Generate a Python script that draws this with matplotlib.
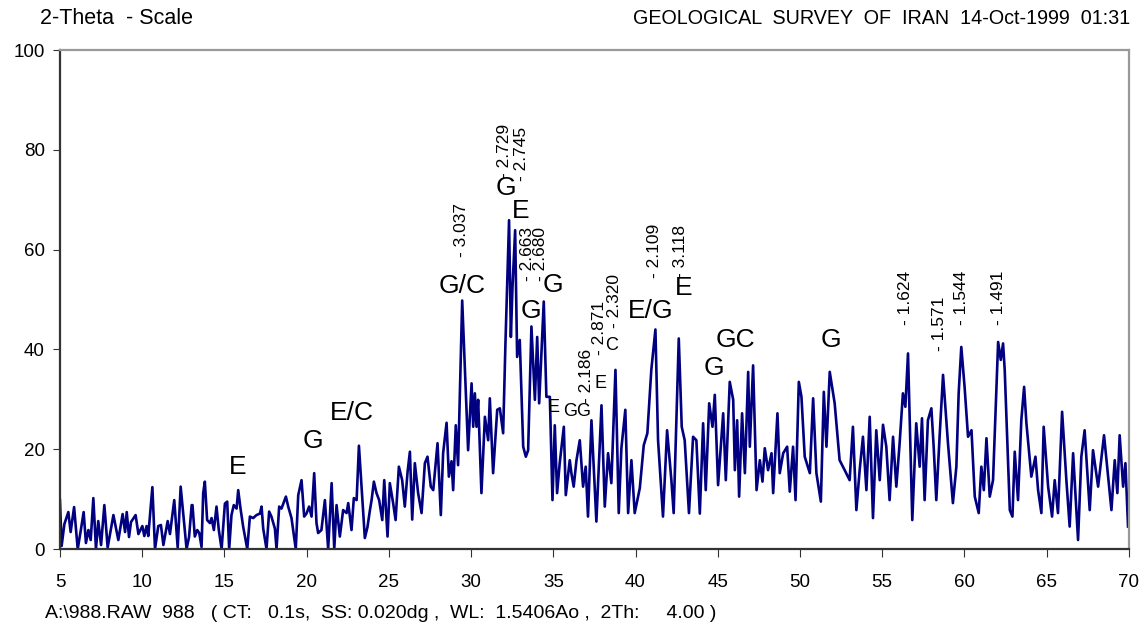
#!/usr/bin/python3
# XRD pattern, 2-theta scale, redrawn with matplotlib

import matplotlib
matplotlib.use('Agg')
import matplotlib.pyplot as plt

plt.rcParams['font.family'] = ['Liberation Sans', 'DejaVu Sans']

# 2-theta (deg) and intensity
two_theta = [
    5.00, 5.10, 5.27, 5.51, 5.65, 5.86, 6.08, 6.28, 6.44, 6.58, 6.73, 6.87,
    7.03, 7.19, 7.33, 7.50, 7.70, 7.90, 8.25, 8.55, 8.81, 8.96, 9.06, 9.20,
    9.32, 9.60, 9.77, 10.01, 10.13, 10.27, 10.37, 10.62, 10.78, 10.98, 11.14,
    11.29, 11.55, 11.69, 11.95, 12.16, 12.34, 12.70, 12.85, 13.01,
    13.06, 13.20, 13.35, 13.47, 13.61, 13.71, 13.81, 13.95, 14.12, 14.22,
    14.36, 14.52, 14.66, 14.83, 15.03, 15.17, 15.29, 15.43, 15.57, 15.74,
    15.84, 15.98, 16.14, 16.39, 16.55, 16.75, 16.95, 17.16, 17.26, 17.36,
    17.56, 17.72, 17.86, 18.07, 18.17, 18.33, 18.47, 18.74, 18.88, 19.08,
    19.34, 19.49, 19.69, 19.85, 19.99, 20.15, 20.30, 20.46, 20.60, 20.70,
    20.90, 21.11,
    21.31, 21.52, 21.68, 21.82, 22.02, 22.22, 22.43, 22.53, 22.73, 22.87,
    23.04, 23.18, 23.34, 23.54, 23.70, 23.85, 23.95, 24.09, 24.25, 24.41,
    24.60, 24.72, 24.92, 25.06, 25.26, 25.41, 25.61, 25.81, 25.97, 26.14,
    26.28, 26.42, 26.58, 26.78, 26.99, 27.19, 27.35, 27.55, 27.70, 27.96,
    28.16, 28.30, 28.51, 28.65, 28.81, 28.91, 29.07, 29.21, 29.46,
    29.82, 30.03, 30.13, 30.23, 30.33, 30.43, 30.63, 30.84, 31.04, 31.14,
    31.34, 31.59, 31.75, 31.95, 32.09, 32.31, 32.42, 32.52, 32.68, 32.80,
    32.96, 33.17, 33.33, 33.47, 33.67, 33.88, 34.02, 34.14, 34.42, 34.58,
    34.79, 34.95, 35.09, 35.23, 35.39, 35.64, 35.76, 36.00,
    36.10, 36.24, 36.41, 36.61, 36.81, 36.97, 37.11, 37.32, 37.62, 37.93,
    38.13, 38.33, 38.53, 38.78, 38.98, 39.14, 39.38, 39.55, 39.75, 39.95,
    40.26, 40.50, 40.72, 40.96, 41.21, 41.37, 41.67, 41.92, 42.18, 42.32,
    42.63, 42.81, 42.99, 43.25, 43.50, 43.70, 43.91,
    44.11, 44.27, 44.48, 44.68, 44.82, 45.02, 45.33, 45.49, 45.73, 45.94,
    46.04, 46.18, 46.30, 46.48, 46.65, 46.85, 46.95, 47.15, 47.36, 47.56,
    47.72, 47.86, 48.06, 48.27, 48.37, 48.63, 48.77, 48.98, 49.22, 49.38,
    49.58, 49.73, 49.93, 50.09, 50.29, 50.60, 50.80, 51.00, 51.27, 51.45,
    51.61, 51.81,
    52.11, 52.41, 52.72, 53.02, 53.22, 53.43, 53.63, 53.83, 54.04, 54.24,
    54.44, 54.64, 54.85, 55.05, 55.25, 55.45, 55.66, 55.86, 56.06, 56.26,
    56.41, 56.57, 56.83, 57.07, 57.28, 57.42, 57.58, 57.78, 57.99, 58.13,
    58.29, 58.49, 58.70, 59.00, 59.30, 59.51, 59.65, 59.81, 60.01,
    60.22, 60.43, 60.63, 60.87, 61.03, 61.18, 61.34, 61.54, 61.74, 62.05,
    62.21, 62.35, 62.45, 62.76, 62.92, 63.06, 63.26, 63.46, 63.63, 63.77,
    64.07, 64.32, 64.48, 64.68, 64.82, 65.09, 65.33, 65.49, 65.69, 65.94,
    66.20, 66.40, 66.61, 66.91, 67.11, 67.31, 67.62, 67.82, 68.13, 68.49,
    68.94, 69.14, 69.30, 69.44, 69.65, 69.79, 69.95,
]
intensity = [
    9.8, 0.6, 5.0, 7.4, 3.4, 8.4, 0.0, 4.0, 7.4, 1.2, 3.8, 1.8,
    10.2, 0.0, 5.6, 0.8, 8.8, 0.3, 6.8, 1.8, 7.0, 3.4, 7.4, 2.4,
    5.4, 6.8, 3.0, 4.6, 2.6, 4.6, 2.6, 12.4, 0.0, 4.6, 4.8,
    0.8, 5.6, 3.0, 9.8, 0.3, 12.5, 0.0, 2.4, 8.8,
    8.8, 2.5, 3.8, 3.2, 0.4, 11.2, 13.5, 5.8, 5.2, 6.2,
    3.8, 8.5, 3.8, 0.0, 9.1, 9.5, 0.0, 6.8, 8.8, 8.1,
    11.8, 8.1, 4.5, 0.0, 6.5, 6.2, 6.8, 7.1, 8.5, 4.1,
    0.0, 7.5, 6.5, 4.1, 0.0, 8.5, 8.1, 10.5, 8.5, 6.2,
    0.0, 10.8, 13.8, 6.5, 7.1, 8.5, 6.5, 15.2, 5.2, 3.2,
    3.8, 9.8,
    0.0, 13.2, 0.0, 8.8, 2.5, 7.8, 7.2, 9.2, 3.8, 10.2,
    9.8, 20.7, 12.5, 2.2, 4.4, 7.8, 9.8, 13.5, 11.2, 9.8,
    5.8, 13.8, 2.5, 13.2, 9.2, 5.8, 16.5, 13.8, 8.5, 15.5,
    19.5, 5.9, 17.2, 11.2, 7.2, 17.2, 18.5, 12.5, 11.8, 21.2,
    6.8, 19.2, 25.3, 14.5, 17.6, 11.8, 24.8, 16.8, 49.8,
    19.8, 33.2, 24.5, 31.2, 24.5, 29.9, 11.2, 26.5, 21.8, 30.2,
    15.2, 27.9, 28.2, 23.2, 41.2, 65.9, 42.5, 52.6, 63.9, 38.5,
    41.9, 20.5, 18.5, 19.8, 44.6, 29.9, 42.5, 29.2, 49.6, 30.5,
    30.5, 9.8, 24.8, 11.2, 17.2, 24.5, 10.8, 17.8,
    15.2, 12.5, 17.8, 21.8, 12.5, 16.5, 6.5, 25.8, 5.5, 28.8,
    8.5, 19.2, 13.2, 35.9, 7.2, 20.2, 27.9, 7.2, 17.8, 7.2,
    12.2, 20.8, 23.2, 35.9, 44.0, 21.8, 6.5, 23.8, 13.8, 7.2,
    42.2, 24.5, 21.8, 7.2, 22.5, 21.8, 7.1,
    25.2, 11.8, 29.2, 24.5, 30.9, 12.8, 27.2, 13.8, 33.5, 29.9,
    15.8, 25.8, 10.5, 27.2, 15.2, 35.5, 20.5, 36.8, 11.8, 17.8,
    13.5, 20.2, 15.8, 19.2, 11.2, 27.2, 15.2, 19.2, 20.5, 11.5,
    20.5, 9.8, 33.5, 30.5, 18.5, 15.2, 30.2, 15.2, 9.5, 31.5,
    20.5, 35.5,
    29.2, 17.8, 15.8, 13.8, 24.5, 7.8, 15.8, 22.5, 11.8, 26.5,
    6.2, 23.8, 13.8, 24.9, 20.5, 9.8, 22.5, 12.5, 21.2, 31.2,
    28.5, 39.2, 5.8, 25.2, 16.5, 26.2, 9.8, 25.8, 28.2, 20.5,
    9.8, 22.5, 34.9, 21.2, 9.2, 16.5, 31.2, 40.5, 32.5,
    22.5, 23.8, 10.5, 7.2, 16.5, 11.8, 22.2, 10.5, 13.8, 41.5,
    37.9, 41.2, 35.9, 7.8, 6.5, 19.5, 9.8, 25.8, 32.5, 25.2,
    14.5, 18.5, 11.8, 7.2, 24.5, 12.5, 6.5, 13.8, 7.2, 27.5,
    13.8, 4.5, 19.2, 1.8, 18.5, 23.8, 7.8, 19.8, 12.5, 22.8,
    7.8, 17.8, 11.2, 22.8, 12.5, 17.2, 4.5,
]

# phase letters: (text, 2-theta, intensity)
phase_big = [
    ("E", 15.8, 16.4), ("G", 20.4, 21.6), ("E/C", 22.75, 27.2),
    ("G/C", 29.45, 52.7), ("G", 32.1, 72.3), ("E", 33.0, 67.8),
    ("G", 33.65, 47.7), ("G", 35.0, 52.9), ("E/G", 40.9, 47.7),
    ("E", 42.9, 52.3), ("G", 44.75, 36.3), ("GC", 46.1, 41.9),
    ("G", 51.9, 41.9),
]
phase_small = [
    ("E", 35.0, 28.3), ("GG", 36.45, 27.5), ("E", 37.85, 33.2),
    ("C", 38.55, 40.7),
]

# d-spacing marks: (label, 2-theta, intensity at foot of text)
d_marks = [
    ("3.037", 29.44, 58.6), ("2.729", 32.05, 74.3), ("2.745", 33.05, 73.8),
    ("2.663", 33.45, 53.8), ("2.680", 34.24, 53.8), ("2.186", 37.04, 29.3),
    ("2.871", 37.83, 38.8), ("2.320", 38.74, 44.3), ("2.109", 41.17, 54.3),
    ("3.118", 42.75, 54.3), ("1.624", 56.43, 44.8), ("1.571", 58.50, 39.6),
    ("1.544", 59.84, 44.8), ("1.491", 62.09, 44.8),
]

x_ticks = list(range(5, 71, 5))
y_ticks = list(range(0, 101, 20))


def main():
    fig = plt.figure(figsize=(11.42, 6.26), dpi=100)
    ax = fig.add_axes([0.0525, 0.123, 0.936, 0.797])

    ax.plot(two_theta, intensity, color='#000080', lw=1.9)

    for txt, x, y in phase_big:
        ax.text(x, y, txt, fontsize=19, ha='center', va='center')
    for txt, x, y in phase_small:
        ax.text(x, y, txt, fontsize=13, ha='center', va='center')
    for txt, x, y in d_marks:
        ax.text(x, y, "- " + txt, fontsize=12.5, rotation=90,
                ha='center', va='bottom')

    ax.set_xlim(5, 70)
    ax.set_ylim(0, 100)
    ax.set_xticks(x_ticks)
    ax.set_yticks(y_ticks)
    ax.tick_params(axis='both', labelsize=13.5, direction='out', length=6,
                   color='#333333')
    ax.tick_params(axis='x', pad=12)
    ax.tick_params(axis='y', length=5, pad=6)

    for s in ('left', 'bottom'):
        ax.spines[s].set_color('#333333')
        ax.spines[s].set_linewidth(1.6)
    for s in ('top', 'right'):
        ax.spines[s].set_color('#999999')
        ax.spines[s].set_linewidth(1.6)

    # header and footer lines of the instrument printout
    fig.text(40 / 1142, 1 - 19 / 626, "2-Theta  - Scale", fontsize=15.5,
             va='center', ha='left')
    fig.text(1130 / 1142, 1 - 19 / 626,
             "GEOLOGICAL  SURVEY  OF  IRAN  14-Oct-1999  01:31",
             fontsize=14.2, va='center', ha='right')
    fig.text(45 / 1142, 1 - 613 / 626,
             "A:\\988.RAW  988   ( CT:   0.1s,  SS: 0.020dg ,  WL:  1.5406Ao ,  2Th:     4.00 )",
             fontsize=14.0, va='center', ha='left')

    plt.savefig("out.png", dpi=100)


if __name__ == "__main__":
    main()
